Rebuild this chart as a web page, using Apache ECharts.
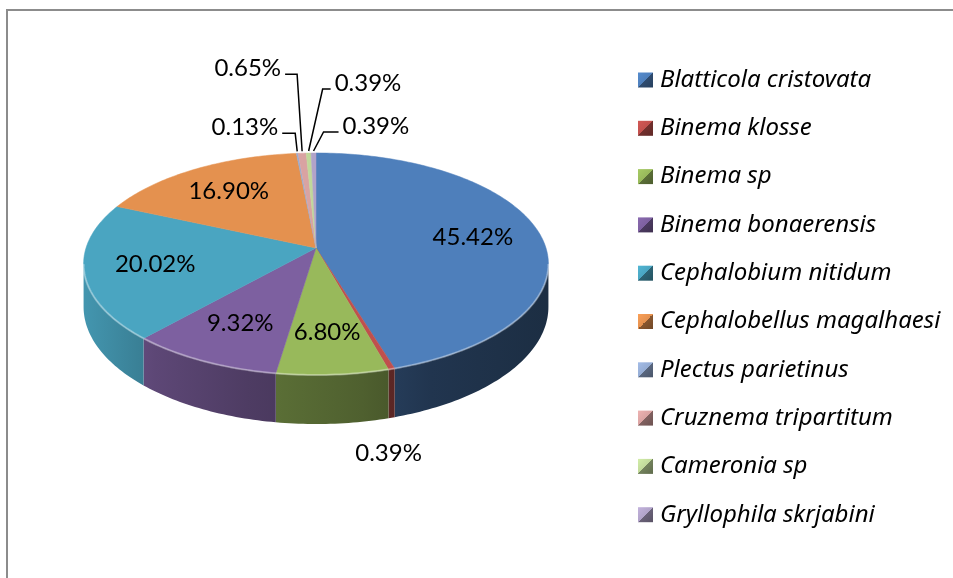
<!DOCTYPE html>
<html>
<head>
<meta charset="utf-8">
<script src="https://cdn.jsdelivr.net/npm/echarts@6/dist/echarts.min.js"></script>
<style>
  html, body { margin: 0; padding: 0; background: #fff; }
  #chart { width: 953px; height: 578px; }
</style>
</head>
<body>
<div id="chart"></div>
<script>
// Nematode species and their share of the total (%)
const species = [
  'Blatticola cristovata', 'Binema klosse', 'Binema sp', 'Binema bonaerensis',
  'Cephalobium nitidum', 'Cephalobellus magalhaesi', 'Plectus parietinus',
  'Cruznema tripartitum', 'Cameronia sp', 'Gryllophila skrjabini'
];
const shares = [45.42, 0.39, 6.80, 9.32, 20.02, 16.90, 0.13, 0.65, 0.39, 0.39];
const sliceColors = [
  '#4e7fbb', '#c0504d', '#98b95b', '#7d60a0', '#4aa5c1',
  '#e4914f', '#95acd3', '#d9a3a2', '#c0d89a', '#b1a3c9'
];

// Callout layout for the thin slices: bend offset from the rim anchor,
// length of the horizontal leader and the side where the text sits.
const callouts = {
  1: { dx: -3, dy: 36, side: 'below' },
  6: { dx: -2, dy: -20, len: 13, side: 'left' },
  7: { dx: -5, dy: -79, len: 12, side: 'left' },
  8: { dx: 14, dy: -64, len: 8, side: 'right' },
  9: { dx: 10, dy: -21, len: 15, side: 'right' }
};

// Tilted-disc geometry (perspective view of a round pie with some thickness)
const G = { cx: 316, cy: 248, R: 230, B: 108.7, k: 0.144, D: 42, labelR: 0.7 };
const LABEL_FONT = 'Lato, "Noto Sans", sans-serif';

const total = shares.reduce((a, b) => a + b, 0);
const startAngles = [];
(function () {
  let acc = 0;
  shares.forEach(v => { startAngles.push(acc / total * Math.PI * 2); acc += v; });
})();

function proj(t, r, z) {
  const u = r * Math.sin(t), v = -r * Math.cos(t);
  const w = 1 - G.k * v;
  return [G.cx + G.R * u / w, G.cy + (G.B * v + G.D * z) / w];
}
function arc(t0, t1, r, z) {
  const n = Math.max(2, Math.ceil((t1 - t0) / (Math.PI / 180)));
  const pts = [];
  for (let i = 0; i <= n; i++) pts.push(proj(t0 + (t1 - t0) * i / n, r, z));
  return pts;
}
function shade(hex, f) {
  const n = parseInt(hex.slice(1), 16);
  const c = [(n >> 16) & 255, (n >> 8) & 255, n & 255].map(x => Math.max(0, Math.min(255, Math.round(x * f))));
  return 'rgb(' + c.join(',') + ')';
}
function markerFill(i) {
  const c = sliceColors[i];
  return new echarts.graphic.LinearGradient(0, 0, 1, 1, [
    { offset: 0, color: shade(c, 1.1) }, { offset: 0.5, color: c },
    { offset: 0.5, color: shade(c, 0.6) }, { offset: 1, color: shade(c, 0.5) }
  ]);
}

// the side wall is visible between the left and right silhouette angles
const wallFrom = Math.acos(-G.k);
const wallTo = Math.PI * 2 - wallFrom;

function renderSlice(i) {
  const t0 = startAngles[i];
  const t1 = t0 + shares[i] / total * Math.PI * 2;
  const mid = (t0 + t1) / 2;
  const c = sliceColors[i];
  const children = [];

  const a = Math.max(t0, wallFrom), b = Math.min(t1, wallTo);
  if (a < b) {
    const top = arc(a, b, 1, 0);
    const bottom = arc(a, b, 1, 1).reverse();
    children.push({
      type: 'polygon', z2: 1,
      shape: { points: top.concat(bottom) },
      style: {
        fill: new echarts.graphic.LinearGradient(G.cx - G.R, 0, G.cx + G.R, 0, [
          { offset: 0, color: shade(c, 0.9) },
          { offset: 0.15, color: shade(c, 0.74) },
          { offset: 0.35, color: shade(c, 0.62) },
          { offset: 0.6, color: shade(c, 0.52) },
          { offset: 0.75, color: shade(c, 0.42) },
          { offset: 1, color: shade(c, 0.36) }
        ], true),
        stroke: null
      }
    });
    children.push({
      type: 'polyline', z2: 12,
      shape: { points: top },
      style: { stroke: 'rgba(255,255,255,0.35)', lineWidth: 2, fill: null }
    });
  }

  children.push({
    type: 'polygon', z2: 10,
    shape: { points: [[G.cx, G.cy]].concat(arc(t0, t1, 1, 0)) },
    style: { fill: c, stroke: c, lineWidth: 0.5 }
  });

  const text = shares[i].toFixed(2) + '%';
  const co = callouts[i];
  if (!co) {
    const p = proj(mid, G.labelR, 0);
    children.push({
      type: 'text', z2: 20, x: p[0], y: p[1],
      style: { text, fontFamily: LABEL_FONT, fontSize: 24, fill: '#000', align: 'center', verticalAlign: 'middle' }
    });
  } else if (co.side === 'below') {
    const p = proj(mid, 1, 1);
    children.push({
      type: 'text', z2: 20, x: p[0] + co.dx, y: p[1] + co.dy,
      style: { text, fontFamily: LABEL_FONT, fontSize: 24, fill: '#000', align: 'center', verticalAlign: 'middle' }
    });
  } else {
    const p = proj(mid, 1, 0);
    const anchor = [p[0], p[1] - 2];
    const bend = [p[0] + co.dx, p[1] + co.dy];
    const dir = co.side === 'left' ? -1 : 1;
    const end = [bend[0] + dir * co.len, bend[1]];
    children.push({
      type: 'polyline', z2: 20,
      shape: { points: [anchor, bend, end] },
      style: { stroke: '#000', lineWidth: 1.5, fill: null }
    });
    children.push({
      type: 'text', z2: 20, x: end[0] + dir * 4, y: bend[1] - 6,
      style: {
        text, fontFamily: LABEL_FONT, fontSize: 24, fill: '#000',
        align: co.side === 'left' ? 'right' : 'left', verticalAlign: 'middle'
      }
    });
  }
  return { type: 'group', children };
}

const chart = echarts.init(document.getElementById('chart'), null, { renderer: 'canvas' });
chart.setOption({
  animation: false,
  backgroundColor: '#fff',
  graphic: [{
    type: 'rect', silent: true,
    shape: { x: 7, y: 10, width: 960, height: 600 },
    style: { fill: null, stroke: '#8c8c8c', lineWidth: 2 }
  }],
  legend: {
    orient: 'vertical', left: 638, top: 68, padding: 0,
    itemWidth: 15, itemHeight: 15, itemGap: 24.3, icon: 'rect',
    selectedMode: false,
    textStyle: {
      fontFamily: '"Noto Sans", sans-serif', fontStyle: 'italic',
      fontSize: 24, lineHeight: 24, color: '#000', padding: [0, 0, 0, 2]
    },
    data: species.map((n, i) => ({ name: n, itemStyle: { color: markerFill(i) } }))
  },
  series: species.map((name, i) => ({
    type: 'custom', name, coordinateSystem: 'none', silent: true,
    itemStyle: { color: sliceColors[i] },
    data: [i],
    renderItem: () => renderSlice(i)
  }))
});
</script>
</body>
</html>
